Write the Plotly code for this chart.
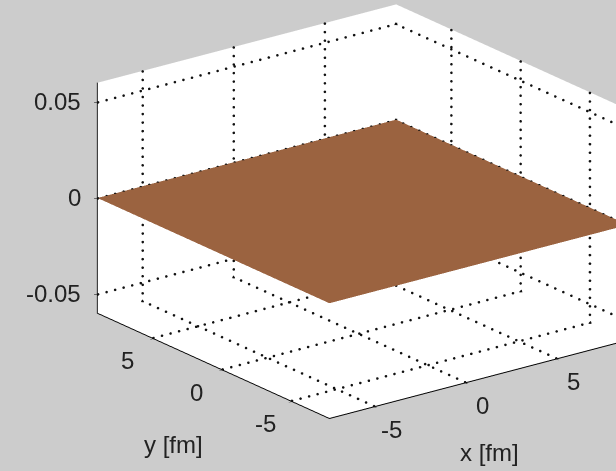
import plotly.graph_objects as go
import numpy as np

# data
x_vals = [-7.45, 8.95]
y_vals = [-7.7, 9.05]
z_vals = [[0.0, 0.0], [0.0, 0.0]]
x_ticks = [-5, 0, 5]
x_ticktext = ["-5", "0", "5"]
y_ticks = [-5, 0, 5]
y_ticktext = ["-5", "0", "5"]
z_ticks = [-0.05, 0, 0.05]
z_ticktext = ["-0.05", "0", "0.05"]
z_range = [-0.06, 0.06]
x_title = "x [fm]"
y_title = "y [fm]"

label_font = dict(family="Liberation Sans, Arial, sans-serif", size=24, color="#222222")

xmin, xmax = x_vals
ymin, ymax = y_vals
zmin, zmax = z_range
xr = xmax - xmin
yr = ymax - ymin
zr = zmax - zmin

fig = go.Figure()
fig.add_trace(go.Surface(
    x=x_vals, y=y_vals, z=z_vals,
    colorscale=[[0, "#9b6340"], [1, "#9b6340"]],
    showscale=False,
    lighting=dict(ambient=1.0, diffuse=0.0, specular=0.0, roughness=1.0, fresnel=0.0),
    hoverinfo="skip",
))

# dotted grid lines (MATLAB style ':') on the back walls and floor, at the tick values
ex, ey, ez = 0.003 * xr, 0.003 * yr, 0.003 * zr
wx, wy, wz = xmax - ex, ymax - ey, zmin + ez
gx, gy, gz = [], [], []
def dotted(p, q, n):
    t = np.linspace(0.0, 1.0, n)
    gx.extend(p[0] + (q[0] - p[0]) * t)
    gy.extend(p[1] + (q[1] - p[1]) * t)
    gz.extend(p[2] + (q[2] - p[2]) * t)
for v in x_ticks:
    dotted((v, wy, zmin), (v, wy, zmax), 28)      # back wall y = ymax, vertical
    dotted((v, ymin, wz), (v, ymax, wz), 30)      # floor, along y
for v in y_ticks:
    dotted((wx, v, zmin), (wx, v, zmax), 28)      # back wall x = xmax, vertical
    dotted((xmin, v, wz), (xmax, v, wz), 36)      # floor, along x
for v in z_ticks:
    dotted((xmin, wy, v), (xmax, wy, v), 36)      # back wall y = ymax, horizontal
    dotted((wx, ymin, v), (wx, ymax, v), 30)      # back wall x = xmax, horizontal
fig.add_trace(go.Scatter3d(
    x=gx, y=gy, z=gz, mode="markers",
    marker=dict(color="#111111", size=1.5, line=dict(width=0)),
    hoverinfo="skip", showlegend=False,
))

axis_common = dict(
    showbackground=True, backgroundcolor="white",
    showgrid=False,
    showline=True, linecolor="black", linewidth=2,
    ticks="outside", ticklen=4, tickcolor="black",
    showticklabels=False, zeroline=False, showspikes=False,
    title=dict(text=""),
)

zoom = 1.594
view_dir = np.array([-0.568, -0.747, 0.345]) * 1.6
ctr = np.array([-0.2065, 0.1127, -0.0959])
eye = view_dir + ctr

annotations = []
for v, t in zip(z_ticks, z_ticktext):
    annotations.append(dict(x=xmin, y=ymax, z=v, text=t, showarrow=False,
                            xanchor="right", yanchor="middle", xshift=-14,
                            font=label_font))
for v, t in zip(y_ticks, y_ticktext):
    annotations.append(dict(x=xmin, y=v, z=zmin, text=t, showarrow=False,
                            xanchor="center", yanchor="middle", xshift=-26, yshift=-22,
                            font=label_font))
for v, t in zip(x_ticks, x_ticktext):
    annotations.append(dict(x=v, y=ymin, z=zmin, text=t, showarrow=False,
                            xanchor="center", yanchor="middle", xshift=17, yshift=-23,
                            font=label_font))
annotations.append(dict(x=xmin, y=(ymin + ymax) / 2, z=zmin, text=y_title, showarrow=False,
                        xanchor="center", yanchor="middle", xshift=-40, yshift=-79,
                        font=label_font))
annotations.append(dict(x=(xmin + xmax) / 2, y=ymin, z=zmin, text=x_title, showarrow=False,
                        xanchor="center", yanchor="middle", xshift=11, yshift=-73,
                        font=label_font))

fig.update_layout(
    width=616, height=471,
    margin=dict(l=0, r=0, t=0, b=0),
    paper_bgcolor="#cccccc",
    showlegend=False,
    scene=dict(
        domain=dict(x=[0, 1], y=[0, 1]),
        xaxis=dict(axis_common, range=x_vals, tickvals=x_ticks),
        yaxis=dict(axis_common, range=y_vals, tickvals=y_ticks),
        zaxis=dict(axis_common, range=z_range, tickvals=z_ticks),
        aspectmode="manual",
        aspectratio=dict(x=zoom, y=zoom * yr / xr, z=zoom * 0.654),
        camera=dict(
            eye=dict(x=eye[0], y=eye[1], z=eye[2]),
            center=dict(x=ctr[0], y=ctr[1], z=ctr[2]),
            up=dict(x=0, y=0, z=1),
            projection=dict(type="orthographic"),
        ),
        bgcolor="#cccccc",
        annotations=annotations,
    ),
)

fig.write_html("out.html", config={"displayModeBar": False},
               post_script="document.body.style.margin='0';")
